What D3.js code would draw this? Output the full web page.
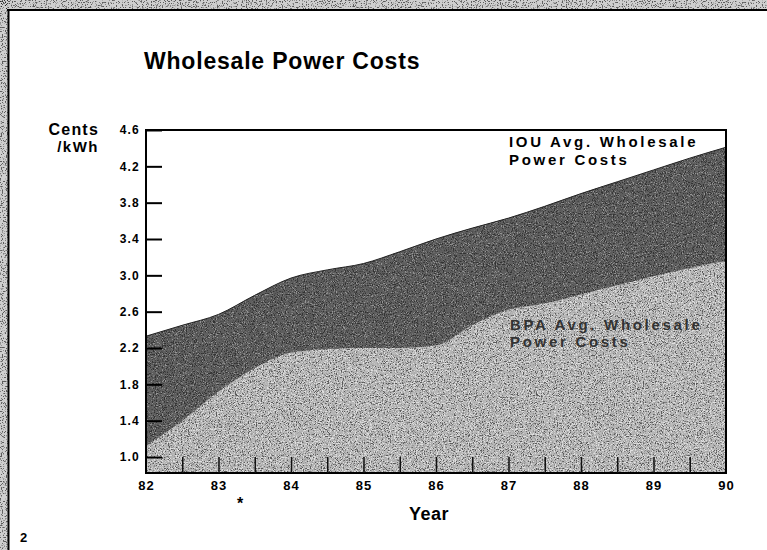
<!DOCTYPE html>
<html>
<head>
<meta charset="utf-8">
<script src="https://cdn.jsdelivr.net/npm/d3@7"></script>
<style>
  body { margin: 0; background: #fff; }
  svg { display: block; font-family: "Liberation Sans", Arial, Helvetica, sans-serif; }
</style>
</head>
<body>
<svg id="chart" width="767" height="550"></svg>
<script>
// values (cents per kWh)
var years = [82, 82.5, 83, 83.5, 84, 84.5, 85, 85.5, 86, 86.5, 87, 87.5, 88, 88.5, 89, 89.5, 90]
var iouCost = [2.33, 2.45, 2.57, 2.78, 2.97, 3.06, 3.13, 3.26, 3.40, 3.52, 3.63, 3.76, 3.90, 4.03, 4.16, 4.29, 4.41]
var bpaCost = [1.12, 1.40, 1.72, 1.98, 2.15, 2.19, 2.20, 2.20, 2.23, 2.45, 2.62, 2.69, 2.79, 2.89, 2.99, 3.08, 3.16]
var yTicks = [1.0, 1.4, 1.8, 2.2, 2.6, 3.0, 3.4, 3.8, 4.2, 4.6]
var xLabels = [82, 83, 84, 85, 86, 87, 88, 89, 90]
var xMinor = [82.5, 83, 83.5, 84, 84.5, 85, 85.5, 86, 86.5, 87, 87.5, 88, 88.5, 89, 89.5]

var svg = d3.select("#chart")
var defs = svg.append("defs")

// speckle texture, like the photocopied screen tone
function speckle(id, seed, freq, k, b, white) {
    var f = defs.append("filter").attr("id", id)
        .attr("x", 0).attr("y", 0).attr("width", "100%").attr("height", "100%")
    f.append("feTurbulence").attr("type", "fractalNoise")
        .attr("baseFrequency", freq).attr("numOctaves", 2).attr("seed", seed).attr("result", "t")
    var c = white ? 1 : 0
    f.append("feColorMatrix").attr("in", "t").attr("type", "matrix")
        .attr("values", "0 0 0 0 " + c + "  0 0 0 0 " + c + "  0 0 0 0 " + c + "  " + k + " 0 0 0 " + b)
        .attr("result", "dots")
    f.append("feComposite").attr("in", "dots").attr("in2", "SourceGraphic").attr("operator", "in")
}
speckle("darkDots", 3, 0.9, 8, -4.2, false)
speckle("darkWhite", 7, 0.9, 8, -4.6, true)
speckle("lightDots", 11, 0.85, 8, -4.3, false)
speckle("lightWhite", 5, 0.85, 8, -4.2, true)
speckle("edgeDots", 2, 0.8, 8, -4.4, false)

var x0 = 146, x1 = 726, yTop = 130, yBot = 473
var x = d3.scaleLinear().domain([82, 90]).range([x0, x1])
var y = d3.scaleLinear().domain([0.824, 4.6]).range([yBot, yTop])

// page edge
var edge = svg.append("g")
edge.append("rect").attr("x", 0).attr("y", 0).attr("width", 767).attr("height", 9).attr("fill", "#cfcfcf")
edge.append("rect").attr("x", 0).attr("y", 0).attr("width", 8).attr("height", 550).attr("fill", "#cfcfcf")
edge.append("rect").attr("x", 0).attr("y", 0).attr("width", 767).attr("height", 9).attr("fill", "#000")
    .attr("opacity", 0.55).attr("filter", "url(#edgeDots)")
edge.append("rect").attr("x", 0).attr("y", 0).attr("width", 8).attr("height", 550).attr("fill", "#000")
    .attr("opacity", 0.55).attr("filter", "url(#edgeDots)")
edge.append("line").attr("x1", 7).attr("x2", 767).attr("y1", 10).attr("y2", 10).attr("stroke", "#000").attr("stroke-width", 2)
edge.append("line").attr("x1", 8.5).attr("x2", 8.5).attr("y1", 9).attr("y2", 550).attr("stroke", "#000").attr("stroke-width", 2)

var rows = years.map(function(d, i) { return { yr: d, iou: iouCost[i], bpa: bpaCost[i] } })

var iouArea = d3.area().curve(d3.curveMonotoneX)
    .x(function(d) { return x(d.yr) }).y0(yBot).y1(function(d) { return y(d.iou) })
var bpaArea = d3.area().curve(d3.curveMonotoneX)
    .x(function(d) { return x(d.yr) }).y0(yBot).y1(function(d) { return y(d.bpa) })

var plot = svg.append("g")
plot.append("path").attr("d", iouArea(rows)).attr("fill", "#5e5e5e")
plot.append("path").attr("d", iouArea(rows)).attr("fill", "#000").attr("opacity", 0.45).attr("filter", "url(#darkDots)")
plot.append("path").attr("d", iouArea(rows)).attr("fill", "#000").attr("opacity", 0.35).attr("filter", "url(#darkWhite)")
plot.append("path").attr("d", bpaArea(rows)).attr("fill", "#b4b4b4")
plot.append("path").attr("d", bpaArea(rows)).attr("fill", "#000").attr("opacity", 0.5).attr("filter", "url(#lightDots)")
plot.append("path").attr("d", bpaArea(rows)).attr("fill", "#000").attr("opacity", 0.6).attr("filter", "url(#lightWhite)")

// thin edge on top of the IOU band
plot.append("path")
    .attr("d", d3.line().curve(d3.curveMonotoneX).x(function(d) { return x(d.yr) }).y(function(d) { return y(d.iou) })(rows))
    .attr("fill", "none").attr("stroke", "#222").attr("stroke-width", 1)

// plot frame
plot.append("rect").attr("x", x0).attr("y", yTop).attr("width", x1 - x0).attr("height", yBot - yTop)
    .attr("fill", "none").attr("stroke", "#000").attr("stroke-width", 2)

// axes
var yAxis = d3.axisLeft(y).tickValues(yTicks).tickSize(-16).tickPadding(6).tickFormat(d3.format(".1f"))
var gy = svg.append("g").attr("transform", "translate(" + x0 + ",0)").call(yAxis)
gy.select(".domain").remove()
gy.selectAll(".tick line").attr("stroke", "#000").attr("stroke-width", 2)
gy.selectAll(".tick text").attr("fill", "#000").style("font-size", "12px").style("font-weight", "bold")
    .style("letter-spacing", "1.2px")

var gMinor = svg.append("g").attr("transform", "translate(0," + yBot + ")")
    .call(d3.axisBottom(x).tickValues(xMinor).tickSize(-16).tickFormat(""))
gMinor.select(".domain").remove()
gMinor.selectAll(".tick line").attr("stroke", "#111").attr("stroke-width", 1.5)

var gx = svg.append("g").attr("transform", "translate(0," + yBot + ")")
    .call(d3.axisBottom(x).tickValues(xLabels).tickSize(0).tickPadding(8).tickFormat(d3.format("d")))
gx.select(".domain").remove()
gx.selectAll(".tick text").attr("fill", "#000").style("font-size", "13px").style("font-weight", "bold")
    .style("letter-spacing", "1px")

// text
svg.append("text").attr("x", 144).attr("y", 69).text("Wholesale Power Costs")
    .style("font-size", "23px").style("font-weight", "bold").style("letter-spacing", "0.8px")
svg.append("text").attr("x", 99).attr("y", 135).attr("text-anchor", "end").text("Cents")
    .style("font-size", "16px").style("font-weight", "bold").style("letter-spacing", "1.2px")
svg.append("text").attr("x", 99).attr("y", 152).attr("text-anchor", "end").text("/kWh")
    .style("font-size", "15px").style("font-weight", "bold").style("letter-spacing", "1.5px")
svg.append("text").attr("x", 429).attr("y", 520).attr("text-anchor", "middle").text("Year")
    .style("font-size", "18px").style("font-weight", "bold").style("letter-spacing", "0.5px")
svg.append("text").attr("x", 240).attr("y", 509).attr("text-anchor", "middle").text("*")
    .style("font-size", "16px").style("font-weight", "bold")
svg.append("text").attr("x", 20).attr("y", 542).text("2")
    .style("font-size", "13px").style("font-weight", "bold")

var iouLabel = svg.append("text").attr("x", 509).attr("y", 147)
    .style("font-size", "15px").style("font-weight", "bold").style("letter-spacing", "2.7px")
iouLabel.append("tspan").attr("x", 509).text("IOU Avg. Wholesale")
iouLabel.append("tspan").attr("x", 509).attr("dy", 18).text("Power Costs")

var bpaLabel = svg.append("text").attr("x", 510).attr("y", 330).attr("fill", "#333")
    .style("font-size", "15px").style("font-weight", "bold").style("letter-spacing", "2.7px")
bpaLabel.append("tspan").attr("x", 510).text("BPA Avg. Wholesale")
bpaLabel.append("tspan").attr("x", 510).attr("dy", 17).text("Power Costs")
</script>
</body>
</html>
